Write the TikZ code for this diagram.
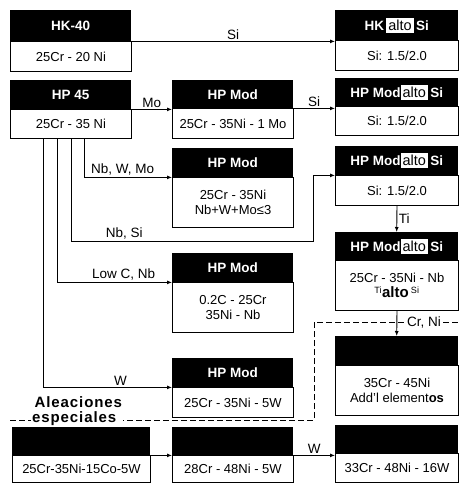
\documentclass[tikz,border=0pt]{standalone}
\usepackage{fontspec}
\setmainfont{Liberation Sans}
\usetikzlibrary{calc,arrows.meta}
\newcommand{\altopatch}[1]{{\setlength{\fboxsep}{2pt}\colorbox{white}{\textcolor{black}{\fontsize{14.5}{15}\selectfont\mdseries #1}}}}

\begin{document}
\begin{tikzpicture}[x=1pt,y=-1pt,
  hd/.style={fill=black,text=white,anchor=north west,inner sep=0pt,font=\bfseries\fontsize{13.5}{15}\selectfont},
  bd/.style={draw,line width=1pt,fill=white,anchor=north west,inner sep=0pt,align=center,font=\fontsize{13}{15.5}\selectfont},
  lnk/.style={line width=0.9pt,-{Latex[length=5pt,width=4pt]}},
  lab/.style={font=\fontsize{13.5}{15}\selectfont,inner sep=1.5pt}]
\useasboundingbox (0,0) rectangle (460,483);
% special alloys border
\coordinate (dsL) at (10,420);
\coordinate (dsC) at (314,322);
\coordinate (dsR) at (458,322);
\draw[line width=0.9pt,dash pattern=on 6pt off 3pt] (dsL) -| (dsC) -- (dsR);
\node[fill=white,align=left,inner sep=1pt,anchor=west,font=\bfseries\fontsize{15}{15}\selectfont\addfontfeatures{LetterSpace=6}] (aleac) at (31,411) {\,Aleaciones\\especiales};
\node[lab,fill=white] (crni) at (424,322) {Cr, Ni};
% boxes: name/x/y/width/header h/body h/header/body
\foreach \nm/\x/\y/\w/\hdh/\bdh/\hdr/\bdy in {
  hkA/10/10/121/31/30/{HK-40}/{25Cr - 20 Ni},
  hpA/10/80/121/29/29/{HP 45}/{25Cr - 35 Ni},
  hkS/335/10/123/30/30/{HK\,\altopatch{alto}\,Si}/{Si: 1.5/2.0},
  mdA/172/80/121/28/30/{HP Mod}/{25Cr - 35Ni - 1 Mo},
  msA/335/78/123/28/29/{HP Mod\altopatch{alto}\,Si}/{Si: 1.5/2.0},
  mdB/172/148/121/29/50/{HP Mod}/{25Cr - 35Ni\\Nb+W+Mo≤3},
  msB/335/146/123/29/30/{HP Mod\altopatch{alto}\,Si}/{Si: 1.5/2.0},
  msC/335/232/123/28/50/{HP Mod\altopatch{alto}\,Si}/{25Cr - 35Ni - Nb\\\textsuperscript{Ti}{\fontsize{15}{15}\selectfont\bfseries alto}\,\textsuperscript{Si}},
  mdC/172/253/121/29/50/{HP Mod}/{0.2C - 25Cr\\35Ni - Nb},
  spA/335/336/123/29/50/{}/{35Cr - 45Ni\\Add'l element\textbf{os}},
  mdD/172/358/121/29/30/{HP Mod}/{25Cr - 35Ni - 5W},
  btA/12/427/138/28/27/{}/{25Cr-35Ni-15Co-5W},
  btB/172/427/121/28/27/{}/{28Cr - 48Ni - 5W},
  btC/335/425/123/28/29/{}/{33Cr - 48Ni - 16W}}{
  \node[bd,minimum width=\w,minimum height=\bdh] (\nm-b) at (\x,\y+\hdh) {\bdy};
  \node[hd,minimum width=\w,minimum height=\hdh] (\nm-h) at (\x,\y) {\hdr};
}
\draw[lnk] (hkA-h.south east) -- (hkA-h.south east -| hkS-h.west) node[lab,midway,above]{Si};
\draw[lnk] (hpA-h.south east) -- (hpA-h.south east -| mdA-h.west) node[lab,midway,above]{Mo};
\draw[lnk] (mdA-h.south east) -- (mdA-h.south east -| msA-h.west) node[lab,midway,above]{Si};
\draw[lnk] ([xshift=74]hpA-b.south west) |- (mdB-h.south west) node[lab,pos=0.72,above]{Nb, W, Mo};
\draw[lnk] ([xshift=61]hpA-b.south west) -- ++(0,102) -| ([xshift=-22]msB-h.south west) node[lab,pos=0.11,above]{Nb, Si} -- (msB-h.south west);
\draw[lnk] ([xshift=47]hpA-b.south west) |- (mdC-h.south west) node[lab,pos=0.79,above]{Low C, Nb};
\draw[lnk] ([xshift=33]hpA-b.south west) |- (mdD-h.south west) node[lab,pos=0.8,above]{W};
\draw[lnk] (msB-b.south) -- (msC-h.north) node[lab,midway,right]{Ti};
\draw[lnk] (msC-b.south) -- (spA-h.north);
\draw[lnk] (btA-h.south east) -- (btB-h.south west);
\draw[lnk] (btB-h.south east) -- (btB-h.south east -| btC-h.west) node[lab,midway,above]{W};
\end{tikzpicture}
\end{document}
